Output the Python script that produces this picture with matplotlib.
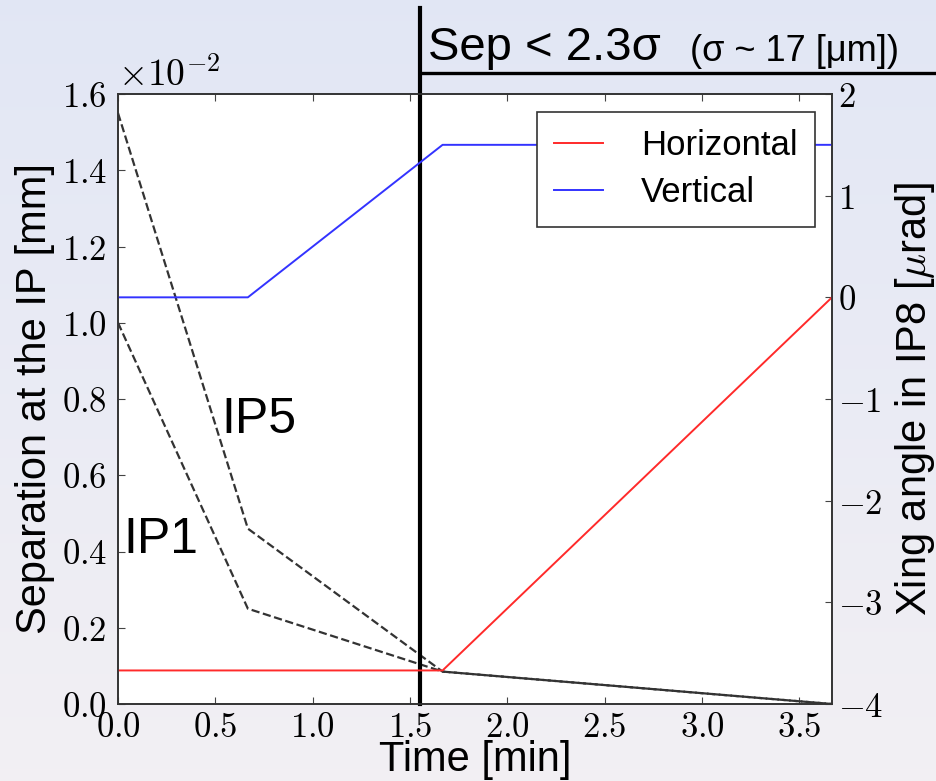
import numpy as np
import matplotlib
matplotlib.use("Agg")
import matplotlib.pyplot as plt
from matplotlib.ticker import FuncFormatter, MultipleLocator
from matplotlib.lines import Line2D

plt.rcParams['mathtext.fontset'] = 'cm'
plt.rcParams['font.family'] = ['Liberation Sans', 'DejaVu Sans']

# time [min]
t = [0.0, 0.667, 1.667, 3.667]
# separation at the IP [mm]
sep_ip5 = [1.55e-2, 0.46e-2, 0.085e-2, 0.0]
sep_ip1 = [1.0e-2, 0.25e-2, 0.085e-2, 0.0]
# crossing angle in IP8 [urad]
xing_h = [-3.67, -3.67, -3.67, 0.0]
xing_v = [0.0, 0.0, 1.5, 1.5]
t_sep = 1.55   # time where sep < 2.3 sigma

W, H = 937, 781
fig = plt.figure(figsize=(W / 100, H / 100), dpi=100)

# slide background
bg = fig.add_axes([0, 0, 1, 1], zorder=-10)
grad = np.linspace(0, 1, 256)[:, None]
top = np.array([0.885, 0.905, 0.96])
bot = np.array([0.95, 0.94, 0.955])
img = top[None, None, :] * (1 - grad[..., None]) + bot[None, None, :] * grad[..., None]
bg.imshow(img, aspect='auto', extent=[0, 1, 0, 1])
bg.axis('off')

ax = fig.add_axes([118 / W, 1 - 704 / H, 714 / W, 610 / H])
ax.set_facecolor('white')
ax.plot(t, sep_ip5, ls='--', color='#333333', lw=1.6)
ax.plot(t, sep_ip1, ls='--', color='#333333', lw=1.6)
ax.set_xlim(0, 3.667)
ax.set_ylim(0, 1.6e-2)
ax.xaxis.set_major_locator(MultipleLocator(0.5))
ax.yaxis.set_major_locator(MultipleLocator(0.2e-2))
ax.xaxis.set_major_formatter(FuncFormatter(lambda v, p: f'${v:.1f}$'))
ax.yaxis.set_major_formatter(FuncFormatter(lambda v, p: f'${v * 100:.1f}$'))
ax.tick_params(direction='in', length=5, width=0.8, color='#444444',
               labelsize=25, top=True, right=False)
ax.tick_params(axis='y', pad=8)
ax.tick_params(axis='x', pad=5)
ax.text(0.0, 1.0, r'$\times10^{-2}$', transform=ax.transAxes, fontsize=27,
        ha='left', va='bottom')

ax.text(0.533, 0.711e-2, 'IP5', fontsize=36, va='baseline')
ax.text(0.026, 0.396e-2, 'IP1', fontsize=36, va='baseline')

ax.set_xlabel('Time [min]', fontsize=30, va='center')
ax.xaxis.set_label_coords(0.5, -0.092)
ax.set_ylabel('Separation at the IP [mm]', fontsize=30, va='center')
ax.yaxis.set_label_coords(-0.116, 0.5)

ax2 = ax.twinx()
ax2.plot(t, xing_h, color='#ff2a2a', lw=1.4, label='Horizontal')
ax2.plot(t, xing_v, color='#3333ff', lw=1.4, label='Vertical')
ax2.set_ylim(-4, 2)
ax2.yaxis.set_major_locator(MultipleLocator(1))
ax2.yaxis.set_major_formatter(FuncFormatter(lambda v, p: f'${v:.0f}$'))
ax2.tick_params(direction='in', length=5, width=0.8, color='#444444',
                labelsize=25, pad=4)
ax2.set_ylabel(r'Xing angle in IP8 [$\mu$rad]', fontsize=30, va='center')
ax2.yaxis.set_label_coords(1.116, 0.5)

for a in (ax, ax2):
    for s in a.spines.values():
        s.set_color('#333333')
        s.set_linewidth(1.2)

leg = ax2.legend(loc='upper right', bbox_to_anchor=(815 / W, 1 - 112 / H),
                 bbox_transform=fig.transFigure, borderaxespad=0,
                 fontsize=25, handlelength=1.4, handletextpad=1.1,
                 borderpad=0.5, labelspacing=0.4, fancybox=False,
                 framealpha=1)
leg.get_frame().set_edgecolor('#333333')
leg.get_frame().set_linewidth(1.2)

# slide annotation
ax.axvline(t_sep, 0, (704 - 8) / 610, color='black', lw=3, clip_on=False, zorder=5)
fig.add_artist(Line2D([420 / W, 1.0], [1 - 73 / H, 1 - 73 / H],
                      transform=fig.transFigure, color='black', lw=2.4))
fig.text(428 / W, 1 - 60 / H, 'Sep < 2.3σ', fontsize=34, va='baseline')
fig.text(690 / W, 1 - 61 / H, '(σ ~ 17 [μm])', fontsize=26, va='baseline')

fig.savefig('out.png', dpi=100)
